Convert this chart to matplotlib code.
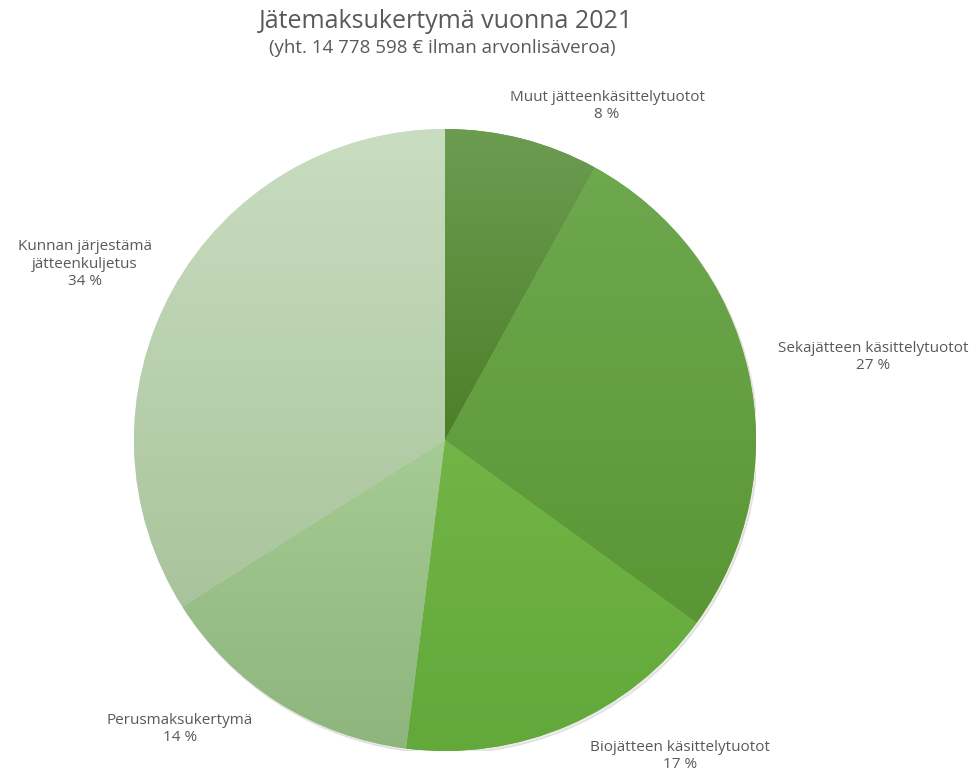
import matplotlib
matplotlib.use("Agg")
import matplotlib.pyplot as plt
import numpy as np
from matplotlib.colors import LinearSegmentedColormap

categories = ["Muut jätteenkäsittelytuotot", "Sekajätteen käsittelytuotot",
              "Biojätteen käsittelytuotot", "Perusmaksukertymä",
              "Kunnan järjestämä\njätteenkuljetus"]
values = [8, 27, 17, 14, 34]
top_colors = ["#6c9c52", "#6ea84f", "#72b546", "#a6cb94", "#c9ddc0"]
bottom_colors = ["#4d7f28", "#5a9634", "#62a83a", "#8db57c", "#a9c49c"]

plt.rcParams['font.family'] = ['Open Sans', 'DejaVu Sans']
W, H = 977, 776
fig = plt.figure(figsize=(W / 100, H / 100), dpi=100)
fig.patch.set_facecolor("white")

cx, cy, r = 445, 440, 311
ax = fig.add_axes([(cx - r) / W, (H - cy - r) / H, 2 * r / W, 2 * r / H])
ax.set_xlim(-1, 1)
ax.set_ylim(-1, 1)
ax.set_aspect("equal")
ax.axis("off")

# soft shadow
shadow = plt.Circle((0.006, -0.008), 1.0, color="#000000", alpha=0.08, zorder=0)
ax.add_patch(shadow)

wedges, _ = ax.pie(values, startangle=90, counterclock=False, radius=1,
                   colors=top_colors, wedgeprops=dict(linewidth=0))
ax.set_xlim(-1, 1)
ax.set_ylim(-1, 1)

grad = np.linspace(0, 1, 256).reshape(-1, 1)
for w, c1, c2 in zip(wedges, top_colors, bottom_colors):
    ext = w.get_path().get_extents()
    cmap = LinearSegmentedColormap.from_list("g", [c1, c2])
    im = ax.imshow(grad, cmap=cmap, aspect="auto", origin="upper",
                   extent=[ext.x0, ext.x1, ext.y0, ext.y1], zorder=2)
    im.set_clip_path(w)

tc = "#595959"
fig.text(446 / W, 1 - 22 / H, "Jätemaksukertymä vuonna 2021", ha="center",
         va="center", fontsize=18, color=tc)
fig.text(442 / W, 1 - 48 / H, "(yht. 14 778 598 € ilman arvonlisäveroa)",
         ha="center", va="center", fontsize=13.5, color=tc)

label_pos = [(607, 106), (873, 357), (680, 756), (180, 729), (85, 264)]
for (x, y), cat, v in zip(label_pos, categories, values):
    fig.text(x / W, 1 - y / H, f"{cat}\n{v} %", ha="center", va="center",
             fontsize=11, color=tc, linespacing=1.25)

fig.savefig("out.png", dpi=100, facecolor="white")
